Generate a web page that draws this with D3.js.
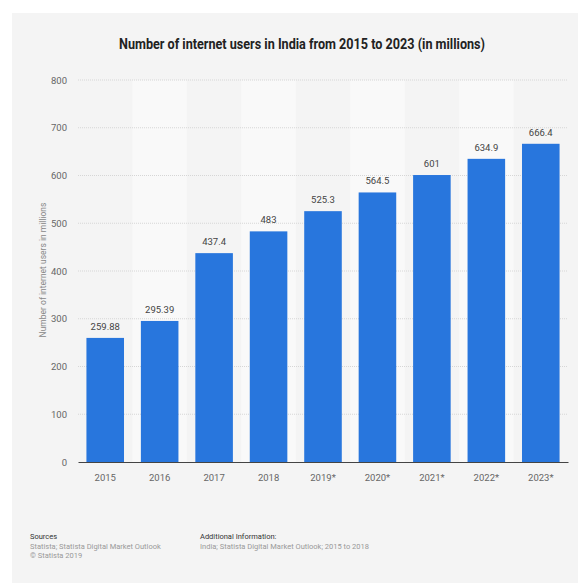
<!DOCTYPE html>
<html>
<head>
<meta charset="utf-8">
<script src="https://cdn.jsdelivr.net/npm/d3@7"></script>
<style>
  body { margin: 0; background: #fff; }
  svg { display: block; font-family: Roboto, "Liberation Sans", sans-serif; }
</style>
</head>
<body>
<script>
// data
var years = ["2015", "2016", "2017", "2018", "2019*", "2020*", "2021*", "2022*", "2023*"];
var users = [259.88, 295.39, 437.4, 483, 525.3, 564.5, 601, 634.9, 666.4];
var labels = ["259.88", "295.39", "437.4", "483", "525.3", "564.5", "601", "634.9", "666.4"];
var yTicks = [0, 100, 200, 300, 400, 500, 600, 700, 800];

var w = 578, h = 585;
var svg = d3.select("body").append("svg")
  .attr("width", w)
  .attr("height", h);

// gray panel
svg.append("rect")
  .attr("x", 12).attr("y", 13)
  .attr("width", w - 12).attr("height", 570)
  .attr("fill", "#f4f4f4");

var plotLeft = 78, plotRight = 568, plotTop = 80, plotBottom = 462;

var x = d3.scaleBand()
  .domain(years)
  .range([plotLeft, plotRight])
  .paddingInner(0.31)
  .paddingOuter(0.155);

var band = d3.scaleBand().domain(years).range([plotLeft, plotRight]);

var y = d3.scaleLinear()
  .domain([0, 800])
  .range([plotBottom, plotTop]);

// lighter stripes behind every other column
svg.append("g").selectAll("rect")
  .data(years.filter(function(d, i) { return i % 2 == 1; }))
  .enter().append("rect")
  .attr("x", function(d) { return band(d); })
  .attr("y", plotTop)
  .attr("width", band.bandwidth())
  .attr("height", plotBottom - plotTop)
  .attr("fill", "#f9f9f9");

// gridlines
svg.append("g").selectAll("line")
  .data(yTicks.slice(1))
  .enter().append("line")
  .attr("x1", plotLeft).attr("x2", plotRight)
  .attr("y1", function(d) { return y(d); })
  .attr("y2", function(d) { return y(d); })
  .attr("stroke", "#d6d6d6")
  .attr("stroke-width", 1)
  .attr("stroke-dasharray", "1,1");

// y axis labels
var yAxis = svg.append("g")
  .attr("transform", "translate(" + (plotLeft - 11) + ",0)")
  .call(d3.axisLeft(y).tickValues(yTicks).tickSize(0).tickPadding(0));
yAxis.select(".domain").remove();
yAxis.selectAll("text")
  .attr("fill", "#666")
  .attr("font-size", "9.5px")
  .attr("font-family", "Roboto, sans-serif");

// bars
svg.append("g").selectAll("rect")
  .data(users)
  .enter().append("rect")
  .attr("x", function(d, i) { return x(years[i]); })
  .attr("y", function(d) { return y(d); })
  .attr("width", x.bandwidth())
  .attr("height", function(d) { return plotBottom - y(d); })
  .attr("fill", "#2876dd");

// value labels
svg.append("g").selectAll("text")
  .data(users)
  .enter().append("text")
  .attr("x", function(d, i) { return x(years[i]) + x.bandwidth() / 2; })
  .attr("y", function(d) { return y(d) - 8; })
  .attr("text-anchor", "middle")
  .attr("font-size", "9.5px")
  .attr("fill", "#444")
  .text(function(d, i) { return labels[i]; });

// x axis
var xAxis = svg.append("g")
  .attr("transform", "translate(0," + plotBottom + ")")
  .call(d3.axisBottom(x).tickSize(0).tickPadding(12));
xAxis.select(".domain")
  .attr("stroke", "#444")
  .attr("stroke-width", 1.2);
xAxis.selectAll("text")
  .attr("fill", "#666")
  .attr("font-size", "9.5px")
  .attr("font-family", "Roboto, sans-serif");

// axis title
svg.append("text")
  .attr("transform", "translate(46,270) rotate(-90)")
  .attr("text-anchor", "middle")
  .attr("font-size", "8.5px")
  .attr("fill", "#888")
  .text("Number of internet users in millions");

// chart title
svg.append("text")
  .attr("x", 302)
  .attr("y", 49)
  .attr("text-anchor", "middle")
  .attr("font-size", "14px")
  .attr("font-weight", "bold")
  .attr("fill", "#222")
  .attr("textLength", 366)
  .attr("lengthAdjust", "spacingAndGlyphs")
  .text("Number of internet users in India from 2015 to 2023 (in millions)");

// footer
var foot = svg.append("g").attr("font-size", "7.5px");
foot.append("text").attr("x", 30).attr("y", 539).attr("fill", "#333").text("Sources");
foot.append("text").attr("x", 30).attr("y", 549).attr("fill", "#999").text("Statista; Statista Digital Market Outlook");
foot.append("text").attr("x", 30).attr("y", 558).attr("fill", "#999").text("\u00a9 Statista 2019");
foot.append("text").attr("x", 200).attr("y", 539).attr("fill", "#333").text("Additional Information:");
foot.append("text").attr("x", 200).attr("y", 549).attr("fill", "#999").text("India; Statista Digital Market Outlook; 2015 to 2018");
</script>
</body>
</html>
